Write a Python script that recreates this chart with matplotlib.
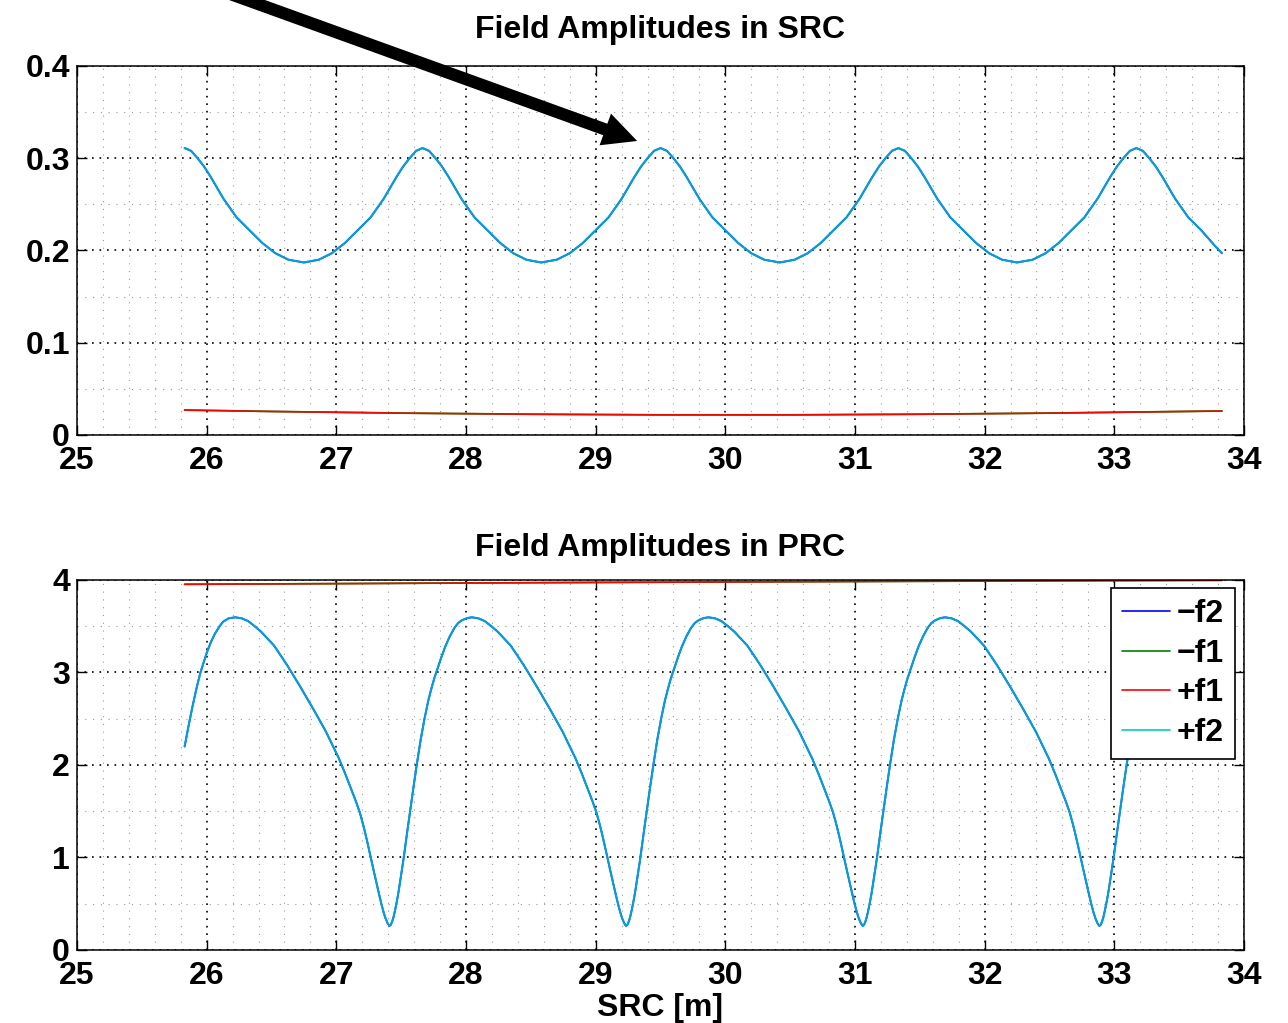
import matplotlib
matplotlib.use("Agg")
import matplotlib.pyplot as plt
from matplotlib.ticker import MultipleLocator

plt.rcParams['font.family'] = ['Liberation Sans', 'DejaVu Sans']
plt.rcParams['font.weight'] = 'bold'

# ---- SRC (top) : +f2 / -f2 lie on top of each other, same for +f1 / -f1
src_x = [25.83, 25.88, 25.93, 25.98, 26.03, 26.08, 26.13, 26.18, 26.23, 26.33, 26.43, 26.53, 26.63,
         26.75, 26.865, 26.965, 27.065, 27.165, 27.265, 27.315, 27.365, 27.415, 27.465, 27.515, 27.565, 27.615,
         27.665, 27.715, 27.765, 27.815, 27.865, 27.915, 27.965, 28.015, 28.065, 28.165, 28.265, 28.365, 28.465,
         28.58, 28.70, 28.80, 28.90, 29.00, 29.10, 29.15, 29.20, 29.25, 29.30, 29.35, 29.40, 29.45,
         29.50, 29.55, 29.60, 29.65, 29.70, 29.75, 29.80, 29.85, 29.90, 30.00, 30.10, 30.20, 30.30,
         30.42, 30.535, 30.635, 30.735, 30.835, 30.935, 30.985, 31.035, 31.085, 31.135, 31.185, 31.235, 31.285,
         31.335, 31.385, 31.435, 31.485, 31.535, 31.585, 31.635, 31.685, 31.735, 31.835, 31.935, 32.035, 32.135,
         32.25, 32.37, 32.47, 32.57, 32.67, 32.77, 32.82, 32.87, 32.92, 32.97, 33.02, 33.07, 33.12,
         33.17, 33.22, 33.27, 33.32, 33.37, 33.42, 33.47, 33.52, 33.57, 33.67, 33.77, 33.83]
src_f2 = [.311, .308, .300, .291, .280, .268, .256, .246, .236, .222, .208, .197, .190,
          .187, .190, .197, .208, .222, .236, .246, .256, .268, .280, .291, .300, .308,
          .311, .308, .300, .291, .280, .268, .256, .246, .236, .222, .208, .197, .190,
          .187, .190, .197, .208, .222, .236, .246, .256, .268, .280, .291, .300, .308,
          .311, .308, .300, .291, .280, .268, .256, .246, .236, .222, .208, .197, .190,
          .187, .190, .197, .208, .222, .236, .246, .256, .268, .280, .291, .300, .308,
          .311, .308, .300, .291, .280, .268, .256, .246, .236, .222, .208, .197, .190,
          .187, .190, .197, .208, .222, .236, .246, .256, .268, .280, .291, .300, .308,
          .311, .308, .300, .291, .280, .268, .256, .246, .236, .222, .206, .197]
src_mf2 = src_f2

src_f1_x = [25.83, 26.5, 27.5, 28.5, 29.5, 30.5, 31.5, 32.5, 33.83]
src_f1 = [0.027, 0.0255, 0.0237, 0.0225, 0.0218, 0.0218, 0.0225, 0.0237, 0.026]
src_mf1 = src_f1

# ---- PRC (bottom)
prc_x = [25.83, 25.86, 25.885, 25.92, 25.95, 26.0, 26.03, 26.064, 26.1, 26.128, 26.17,
         # peak ~26.22 -> dip ~27.41
         26.22, 26.27, 26.32, 26.37, 26.42, 26.52, 26.62, 26.72, 26.82, 26.92, 27.02, 27.07, 27.12, 27.15,
         27.18, 27.20, 27.22, 27.24, 27.265, 27.29, 27.31, 27.33, 27.347, 27.365, 27.38, 27.395, 27.405,
         27.41,
         27.42, 27.43, 27.44, 27.45, 27.466, 27.48, 27.49, 27.505, 27.52, 27.545, 27.57, 27.595, 27.62,
         27.65, 27.68, 27.71, 27.73, 27.755, 27.78, 27.81, 27.84, 27.875, 27.91, 27.94, 27.97, 28.01,
         # peak ~28.045 -> dip ~29.235
         28.045, 28.095, 28.145, 28.195, 28.245, 28.345, 28.445, 28.545, 28.645, 28.745, 28.845, 28.895, 28.945, 28.975,
         29.005, 29.025, 29.045, 29.065, 29.09, 29.115, 29.135, 29.155, 29.172, 29.19, 29.205, 29.22, 29.23,
         29.235,
         29.245, 29.255, 29.265, 29.275, 29.291, 29.305, 29.315, 29.33, 29.345, 29.37, 29.395, 29.42, 29.445,
         29.475, 29.505, 29.535, 29.555, 29.58, 29.605, 29.635, 29.665, 29.70, 29.735, 29.765, 29.795, 29.835,
         # peak ~29.87 -> dip ~31.06
         29.87, 29.92, 29.97, 30.02, 30.07, 30.17, 30.27, 30.37, 30.47, 30.57, 30.67, 30.72, 30.77, 30.80,
         30.83, 30.85, 30.87, 30.89, 30.915, 30.94, 30.96, 30.98, 30.997, 31.015, 31.03, 31.045, 31.055,
         31.06,
         31.07, 31.08, 31.09, 31.10, 31.116, 31.13, 31.14, 31.155, 31.17, 31.195, 31.22, 31.245, 31.27,
         31.30, 31.33, 31.36, 31.38, 31.405, 31.43, 31.46, 31.49, 31.525, 31.56, 31.59, 31.62, 31.66,
         # peak ~31.695 -> dip ~32.885
         31.695, 31.745, 31.795, 31.845, 31.895, 31.995, 32.095, 32.195, 32.295, 32.395, 32.495, 32.545, 32.595, 32.625,
         32.655, 32.675, 32.695, 32.715, 32.74, 32.765, 32.785, 32.805, 32.822, 32.84, 32.855, 32.87, 32.88,
         32.885,
         32.895, 32.905, 32.915, 32.925, 32.941, 32.955, 32.965, 32.98, 32.995, 33.02, 33.045, 33.07, 33.095,
         33.125, 33.155, 33.185, 33.205, 33.23, 33.255, 33.285, 33.315, 33.35, 33.385, 33.415, 33.445, 33.485,
         33.52, 33.57, 33.62, 33.67, 33.72, 33.83]
prc_f2 = [2.20, 2.42, 2.595, 2.82, 2.99, 3.21, 3.32, 3.42, 3.50, 3.55, 3.585,
          3.596, 3.585, 3.555, 3.50, 3.44, 3.29, 3.08, 2.85, 2.61, 2.36, 2.07, 1.90, 1.72, 1.61,
          1.49, 1.39, 1.28, 1.16, 1.0, 0.845, 0.72, 0.60, 0.50, 0.405, 0.34, 0.29, 0.268,
          0.26,
          0.272, 0.305, 0.35, 0.41, 0.52, 0.63, 0.72, 0.86, 1.0, 1.26, 1.51, 1.76, 2.0,
          2.27, 2.50, 2.70, 2.81, 2.935, 3.04, 3.165, 3.28, 3.39, 3.48, 3.535, 3.565, 3.588,
          3.596, 3.585, 3.555, 3.50, 3.44, 3.29, 3.08, 2.85, 2.61, 2.36, 2.07, 1.90, 1.72, 1.61,
          1.49, 1.39, 1.28, 1.16, 1.0, 0.845, 0.72, 0.60, 0.50, 0.405, 0.34, 0.29, 0.268,
          0.26,
          0.272, 0.305, 0.35, 0.41, 0.52, 0.63, 0.72, 0.86, 1.0, 1.26, 1.51, 1.76, 2.0,
          2.27, 2.50, 2.70, 2.81, 2.935, 3.04, 3.165, 3.28, 3.39, 3.48, 3.535, 3.565, 3.588,
          3.596, 3.585, 3.555, 3.50, 3.44, 3.29, 3.08, 2.85, 2.61, 2.36, 2.07, 1.90, 1.72, 1.61,
          1.49, 1.39, 1.28, 1.16, 1.0, 0.845, 0.72, 0.60, 0.50, 0.405, 0.34, 0.29, 0.268,
          0.26,
          0.272, 0.305, 0.35, 0.41, 0.52, 0.63, 0.72, 0.86, 1.0, 1.26, 1.51, 1.76, 2.0,
          2.27, 2.50, 2.70, 2.81, 2.935, 3.04, 3.165, 3.28, 3.39, 3.48, 3.535, 3.565, 3.588,
          3.596, 3.585, 3.555, 3.50, 3.44, 3.29, 3.08, 2.85, 2.61, 2.36, 2.07, 1.90, 1.72, 1.61,
          1.49, 1.39, 1.28, 1.16, 1.0, 0.845, 0.72, 0.60, 0.50, 0.405, 0.34, 0.29, 0.268,
          0.26,
          0.272, 0.305, 0.35, 0.41, 0.52, 0.63, 0.72, 0.86, 1.0, 1.26, 1.51, 1.76, 2.0,
          2.27, 2.50, 2.70, 2.81, 2.935, 3.04, 3.165, 3.28, 3.39, 3.48, 3.535, 3.565, 3.588,
          3.596, 3.585, 3.555, 3.50, 3.44, 3.27]
prc_mf2 = prc_f2

prc_f1_x = [25.83, 27, 28, 29, 30, 31, 32, 33, 33.83]
prc_f1 = [3.953, 3.96, 3.967, 3.973, 3.978, 3.983, 3.988, 3.993, 3.996]
prc_mf1 = prc_f1

labels = ['\u2212f2', '\u2212f1', '+f1', '+f2']
FS = 23

fig = plt.figure(figsize=(12.88, 10.23), dpi=100)
ax1 = fig.add_axes([0.0598, 0.5748, 0.906, 0.3607])
ax2 = fig.add_axes([0.0598, 0.0714, 0.906, 0.3617])


def style(ax, ymax, ystep, yminor, ylabels):
    ax.set_xlim(25, 34)
    ax.set_ylim(0, ymax)
    ax.set_xticks(range(25, 35))
    ax.set_xticklabels([str(v) for v in range(25, 35)], fontsize=FS, fontweight='bold')
    ax.set_yticks([i * ystep for i in range(len(ylabels))])
    ax.set_yticklabels(ylabels, fontsize=FS, fontweight='bold')
    ax.xaxis.set_minor_locator(MultipleLocator(0.2))
    ax.yaxis.set_minor_locator(MultipleLocator(yminor))
    ax.tick_params(which='major', direction='in', top=True, right=True,
                   length=7, width=1, pad=5)
    ax.tick_params(axis='x', which='major', pad=8)
    ax.tick_params(which='minor', length=0)
    ax.set_axisbelow(True)
    ax.grid(which='major', color='k', linestyle=(0, (1, 3.5)), lw=1.2)
    ax.grid(which='minor', color='#9a9a9a', linestyle=(0, (1, 6)), lw=0.8)
    for s in ax.spines.values():
        s.set_linewidth(1.1)


def curves(ax, x2, mf2, f2, x1, mf1, f1):
    kw = dict(solid_joinstyle='round', solid_capstyle='round')
    ax.plot(x2, mf2, color='blue', lw=1.4, **kw)
    ax.plot(x1, mf1, color='#008000', lw=1.3, **kw)
    ax.plot(x1, f1, color='red', lw=1.2, alpha=0.9, **kw)
    ax.plot(x2, f2, color='#00cccc', lw=1.4, alpha=0.8, **kw)


curves(ax1, src_x, src_mf2, src_f2, src_f1_x, src_mf1, src_f1)
style(ax1, 0.4, 0.1, 0.05, ['0', '0.1', '0.2', '0.3', '0.4'])
ax1.set_title('Field Amplitudes in SRC', fontsize=FS, fontweight='bold', pad=20)

curves(ax2, prc_x, prc_mf2, prc_f2, prc_f1_x, prc_mf1, prc_f1)
style(ax2, 4, 1, 0.5, ['0', '1', '2', '3', '4'])
ax2.set_title('Field Amplitudes in PRC', fontsize=FS, fontweight='bold', pad=17.5)
ax2.set_xlabel('SRC [m]', fontsize=FS, fontweight='bold', labelpad=1.5)

leg = ax2.legend(ax2.get_lines(), labels, loc='upper right',
                 bbox_to_anchor=(1 - 9 / 1167, 1 - 8 / 370), borderaxespad=0,
                 prop={'weight': 'bold', 'size': FS},
                 fancybox=False, framealpha=1, edgecolor='k',
                 borderpad=0.35, labelspacing=0.3, handlelength=1.5,
                 handletextpad=0.22)
leg.get_frame().set_linewidth(1.2)
for h in leg.legend_handles:
    h.set_alpha(1)
    h.set_linewidth(1.2)

# big arrow pointing at a SRC peak
ax1.annotate('', xy=(29.32, 0.3187), xycoords='data',
             xytext=(0.128, 1.029), textcoords='figure fraction',
             arrowprops=dict(arrowstyle='simple,head_length=1.22,head_width=1.21,tail_width=0.44',
                             mutation_scale=20, fc='k', ec='k', lw=0,
                             shrinkA=0, shrinkB=0),
             annotation_clip=False)

fig.savefig('out.png', dpi=100)
